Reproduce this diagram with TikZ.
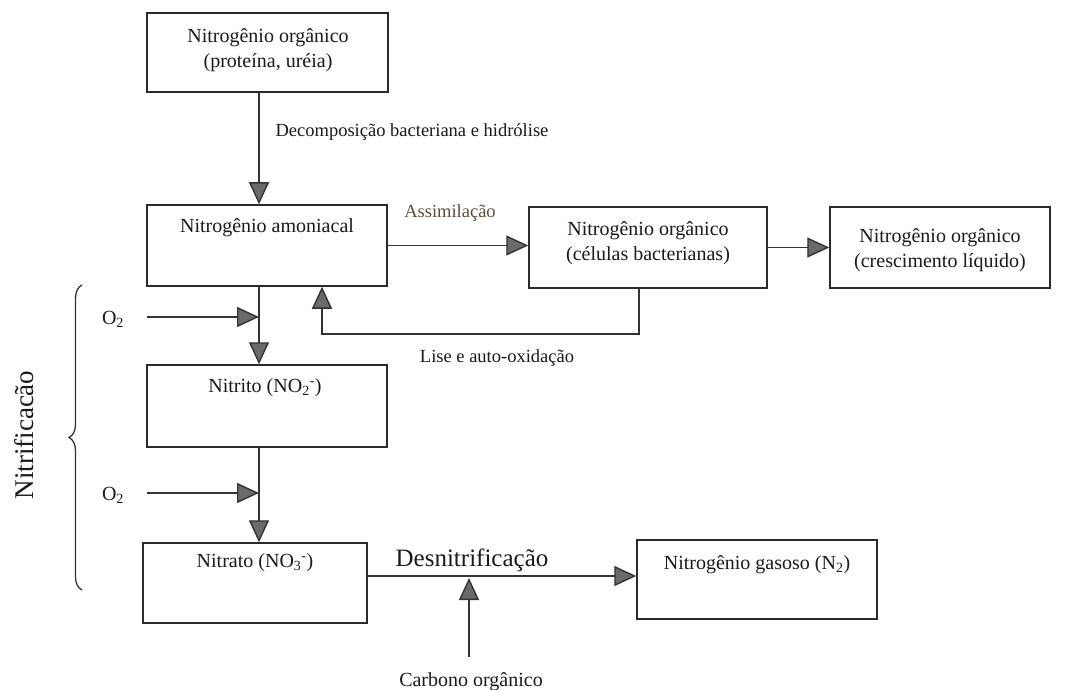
\documentclass[tikz,border=0pt]{standalone}
\usepackage{fontspec}
\setmainfont{Liberation Serif}
\usetikzlibrary{arrows.meta,decorations.pathreplacing}
\definecolor{linec}{HTML}{333333}
\definecolor{boxc}{HTML}{2A2A2A}
\definecolor{headc}{HTML}{6A6A6A}
\definecolor{txtc}{HTML}{1A1A1A}
\definecolor{assimc}{HTML}{5E4C38}
\begin{document}
\begin{tikzpicture}[x=1pt,y=-1pt,
  box/.style={draw=boxc, line width=1.5pt, rectangle, inner sep=0pt},
  txt/.style={text=txtc, align=center, inner sep=0pt, font=\fontsize{20}{25}\selectfont},
  lbl/.style={text=txtc, inner sep=0pt, font=\fontsize{18.5}{22}\selectfont},
  arr/.style={draw=linec, line width=1.4pt, -{Triangle[length=22pt,width=20pt,fill=headc]}},
  ln/.style={draw=linec, line width=1.3pt}]
\fill[white] (0,0) rectangle (1066,690);
\useasboundingbox (0,0) rectangle (1066,690);

% boxes
\node[box, minimum width=241pt, minimum height=79pt] (b1) at (267.5,52.5) {};
\node[box, minimum width=240pt, minimum height=81pt] (b2) at (267,245.5) {};
\node[box, minimum width=238pt, minimum height=81pt] (b3) at (648,247.5) {};
\node[box, minimum width=220pt, minimum height=81pt] (b4) at (940,247.5) {};
\node[box, minimum width=240pt, minimum height=82pt] (b5) at (267,406) {};
\node[box, minimum width=224pt, minimum height=80pt] (b6) at (255,583) {};
\node[box, minimum width=240pt, minimum height=79pt] (b7) at (757,579.5) {};

% box texts
\node[txt] (t1) at (268,50) {Nitrogênio orgânico\\(proteína, uréia)};
\node[txt] (t2) at (267,228) {Nitrogênio amoniacal};
\node[txt] (t3) at (648,243) {Nitrogênio orgânico\\(células bacterianas)};
\node[txt] (t4) at (940,250) {Nitrogênio orgânico\\(crescimento líquido)};
\node[txt] (t5) at (265,388) {Nitrito (NO\textsubscript{2}\textsuperscript{-})};
\node[txt] (t6) at (255,563) {Nitrato (NO\textsubscript{3}\textsuperscript{-})};
\node[txt] (t7) at (757,565) {Nitrogênio gasoso (N\textsubscript{2})};

% helper coordinates
\coordinate (vx) at (259,0);
\coordinate (lr) at (639,334);
\coordinate (ll) at (322,334);
\coordinate (o1) at (147,317);
\coordinate (o2) at (147,493);
\coordinate (dy) at (0,576);
\coordinate (c0) at (469,657);
\coordinate (c1) at (469,578);

% connectors
\draw[arr] (b1.south -| vx) -- (b2.north -| vx);
\draw[arr] (b2.east) -- (b2.east -| b3.west);
\draw[arr] (b3.east) -- (b3.east -| b4.west);
\draw[arr] (b3.south -| lr) -- (lr) -- (ll) -- (b2.south -| ll);
\draw[arr] (b2.south -| vx) -- (b5.north -| vx);
\draw[arr] (o1) -- (o1 -| vx);
\draw[arr] (b5.south -| vx) -- (b6.north -| vx);
\draw[arr] (o2) -- (o2 -| vx);
\draw[arr] (b6.east |- dy) -- (b7.west |- dy);
\draw[arr] (c0) -- (c1);

% labels
\node[lbl] (ldec) at (412,132) {Decomposição bacteriana e hidrólise};
\node[lbl, text=assimc] (lass) at (450,213) {Assimilação};
\node[lbl] (llis) at (497,358) {Lise e auto-oxidação};
\node[txt] (lo1) at (113,319) {O\textsubscript{2}};
\node[txt] (lo2) at (113,495) {O\textsubscript{2}};
\node[lbl, font=\fontsize{25}{30}\selectfont] (ldes) at (472,560) {Desnitrificação};
\node[lbl, font=\fontsize{20}{24}\selectfont] (lcar) at (471,682) {Carbono orgânico};

% brace and rotated label
\draw[ln, line width=1.3pt, decorate, decoration={brace, amplitude=13pt}] (82,590) -- (82,285);
\node[lbl, rotate=90, font=\fontsize{27}{30}\selectfont] (lnit) at (24,435) {Nitrificacão};
\end{tikzpicture}
\end{document}
